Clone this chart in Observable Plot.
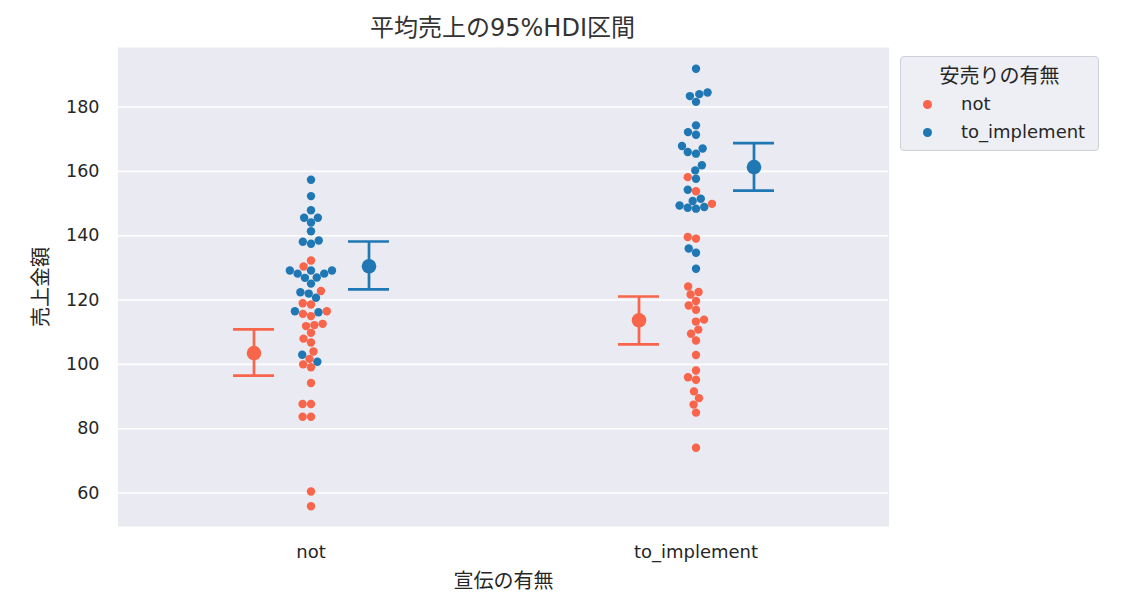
<!DOCTYPE html>
<html>
<head>
<meta charset="utf-8">
<script src="https://cdn.jsdelivr.net/npm/d3@7"></script>
<script src="https://cdn.jsdelivr.net/npm/@observablehq/plot@0.6"></script>
<style>
  html, body { margin: 0; padding: 0; background: #ffffff; }
  #wrap { position: relative; width: 1128px; height: 607px; font-family: "DejaVu Sans", "Noto Sans CJK JP", sans-serif; color: #262626; }
  #title { position: absolute; left: 117px; width: 771px; top: 12px; text-align: center; font-size: 24px; line-height: 32px; color: #333333; }
  #legend { position: absolute; left: 900px; top: 56px; width: 199px; height: 95px; border: 1px solid #d0d0d8; border-radius: 4px; background: rgba(234,234,242,0.8); box-sizing: border-box; }
  #legend .lt { text-align: center; font-family: "Noto Sans CJK JP", sans-serif; font-size: 20px; line-height: 24px; margin-top: 6px; margin-bottom: 3px; }
  #legend .row { position: relative; height: 28px; font-size: 18px; line-height: 28px; }
  #legend .sw { position: absolute; left: 21.5px; top: 9.5px; width: 9px; height: 9px; border-radius: 50%; }
  #legend .lb { position: absolute; left: 60px; top: 0; }
</style>
</head>
<body>
<div id="wrap">
  <div id="chart"></div>
  <div id="title"></div>
  <div id="legend"></div>
</div>
<script>
// ---- data ----
const titleText = "平均売上の95%HDI区間";
const xLabel = "宣伝の有無";
const yLabel = "売上金額";
const legendTitle = "安売りの有無";
const groups = ["not", "to_implement"];        // 宣伝の有無
const hues = ["not", "to_implement"];          // 安売りの有無
const colors = ["#f9654a", "#1f77b4"];
const yTicks = [60, 80, 100, 120, 140, 160, 180];

// 売上金額 per (宣伝, 安売り)
const salesNotNot = [132.3, 130.4, 122.8, 118.6, 119.0, 116.5, 115.7, 115.0, 111.9, 112.2, 112.6, 109.8, 108.0, 106.8, 104.0, 101.7, 100.0, 99.1, 94.2, 87.7, 87.7, 83.7, 83.7, 60.5, 55.9];
const salesNotImpl = [157.4, 152.3, 147.9, 145.6, 145.6, 144.1, 141.4, 138.1, 137.5, 138.5, 129.2, 128.2, 126.9, 129.2, 127.0, 128.2, 129.2, 125.1, 120.7, 122.0, 122.4, 116.2, 116.5, 103.0, 100.8];
const salesImplNot = [158.2, 153.8, 149.9, 139.6, 139.1, 124.2, 121.7, 122.5, 118.3, 119.7, 117.0, 113.3, 113.9, 109.5, 110.8, 107.4, 102.9, 98.1, 96.0, 95.2, 91.6, 89.5, 87.5, 85.0, 74.1];
const salesImplImpl = [191.9, 183.4, 184.0, 184.5, 181.6, 174.3, 172.2, 171.4, 167.9, 166.0, 165.5, 167.1, 161.9, 160.3, 157.7, 154.3, 151.5, 150.8, 149.4, 148.7, 148.4, 148.9, 136.0, 134.7, 129.7];

// 95% HDI of the mean (order: [group][hue])
const hdiMean  = [[103.5, 130.5], [113.7, 161.3]];
const hdiLower = [[96.5, 123.3], [106.2, 154.0]];
const hdiUpper = [[110.9, 138.2], [121.1, 168.8]];

// ---- tables built from the arrays ----
const salesSets = [[salesNotNot, salesNotImpl], [salesImplNot, salesImplImpl]];
const points = [];
groups.forEach((g, gi) => hues.forEach((h, hi) => salesSets[gi][hi].forEach(v => points.push({group: g, hue: h, value: v}))));
const swarm = d3.sort(points, d => d.value);
const hdi = [];
groups.forEach((g, gi) => hues.forEach((h, hi) => hdi.push({group: g, hue: h, mean: hdiMean[gi][hi], lower: hdiLower[gi][hi], upper: hdiUpper[gi][hi]})));

const W = 1128, mL = 117, mR = 240;
const pInner = 0.6455, pOuter = 0.9894;
// band offset that Plot adds to every mark when x is a band scale (undone for the centred swarm)
const facetW = (W - mL - mR) / groups.length;
const halfBand = facetW / (hues.length - pInner + 2 * pOuter) * (1 - pInner) / 2;
const ebw = 2.7;
const latin = '"DejaVu Sans", "Noto Sans CJK JP", sans-serif';
const cjk = '"Noto Sans CJK JP", sans-serif';

const chart = Plot.plot({
  width: W,
  height: 607,
  marginLeft: mL,
  marginRight: mR,
  marginTop: 47,
  marginBottom: 81,
  style: {fontFamily: latin, fontSize: "18px", color: "#262626", background: "transparent"},
  fx: {domain: groups, padding: 0},
  x: {type: "band", domain: hues, paddingInner: pInner, paddingOuter: pOuter, axis: null},
  y: {domain: [49.6, 198.5]},
  color: {domain: hues, range: colors},
  marks: [
    Plot.frame({fill: "#eaeaf2", stroke: null, insetLeft: -0.6, insetRight: -0.6}),
    Plot.gridY(yTicks, {stroke: "#ffffff", strokeOpacity: 1, strokeWidth: 1.6}),
    Plot.axisY(yTicks, {tickSize: 0, tickPadding: 19, fill: "#262626", fontSize: 17.5, label: null}),
    Plot.axisY({ticks: [], tickSize: 0, label: yLabel, labelAnchor: "center", labelArrow: "none", labelOffset: 85, fill: "#262626", fontSize: 20, fontFamily: cjk}),
    Plot.axisFx({anchor: "bottom", tickSize: 0, tickPadding: 19, fill: "#262626", fontSize: 18, label: null}),
    Plot.axisFx({anchor: "bottom", ticks: [], tickSize: 0, label: xLabel, labelAnchor: "center", labelArrow: "none", labelOffset: 61, fill: "#262626", fontSize: 20, fontFamily: cjk}),
    Plot.dot(swarm, Plot.dodgeX({anchor: "middle", padding: 0}, {fx: "group", y: "value", fill: "hue", r: 4.2, dx: -halfBand})),
    Plot.ruleX(hdi, {fx: "group", x: "hue", y1: "lower", y2: "upper", stroke: "hue", strokeWidth: ebw}),
    Plot.tickY(hdi, {fx: "group", x: "hue", y: "lower", stroke: "hue", strokeWidth: ebw}),
    Plot.tickY(hdi, {fx: "group", x: "hue", y: "upper", stroke: "hue", strokeWidth: ebw}),
    Plot.dot(hdi, {fx: "group", x: "hue", y: "mean", fill: "hue", r: 7.3})
  ]
});
document.getElementById("chart").appendChild(chart);
document.getElementById("title").textContent = titleText;

const lg = document.getElementById("legend");
const lt = document.createElement("div"); lt.className = "lt"; lt.textContent = legendTitle; lg.appendChild(lt);
hues.forEach((h, i) => {
  const row = document.createElement("div"); row.className = "row";
  const sw = document.createElement("span"); sw.className = "sw"; sw.style.background = colors[i];
  const lb = document.createElement("span"); lb.className = "lb"; lb.textContent = h;
  row.appendChild(sw); row.appendChild(lb); lg.appendChild(row);
});
</script>
</body>
</html>
